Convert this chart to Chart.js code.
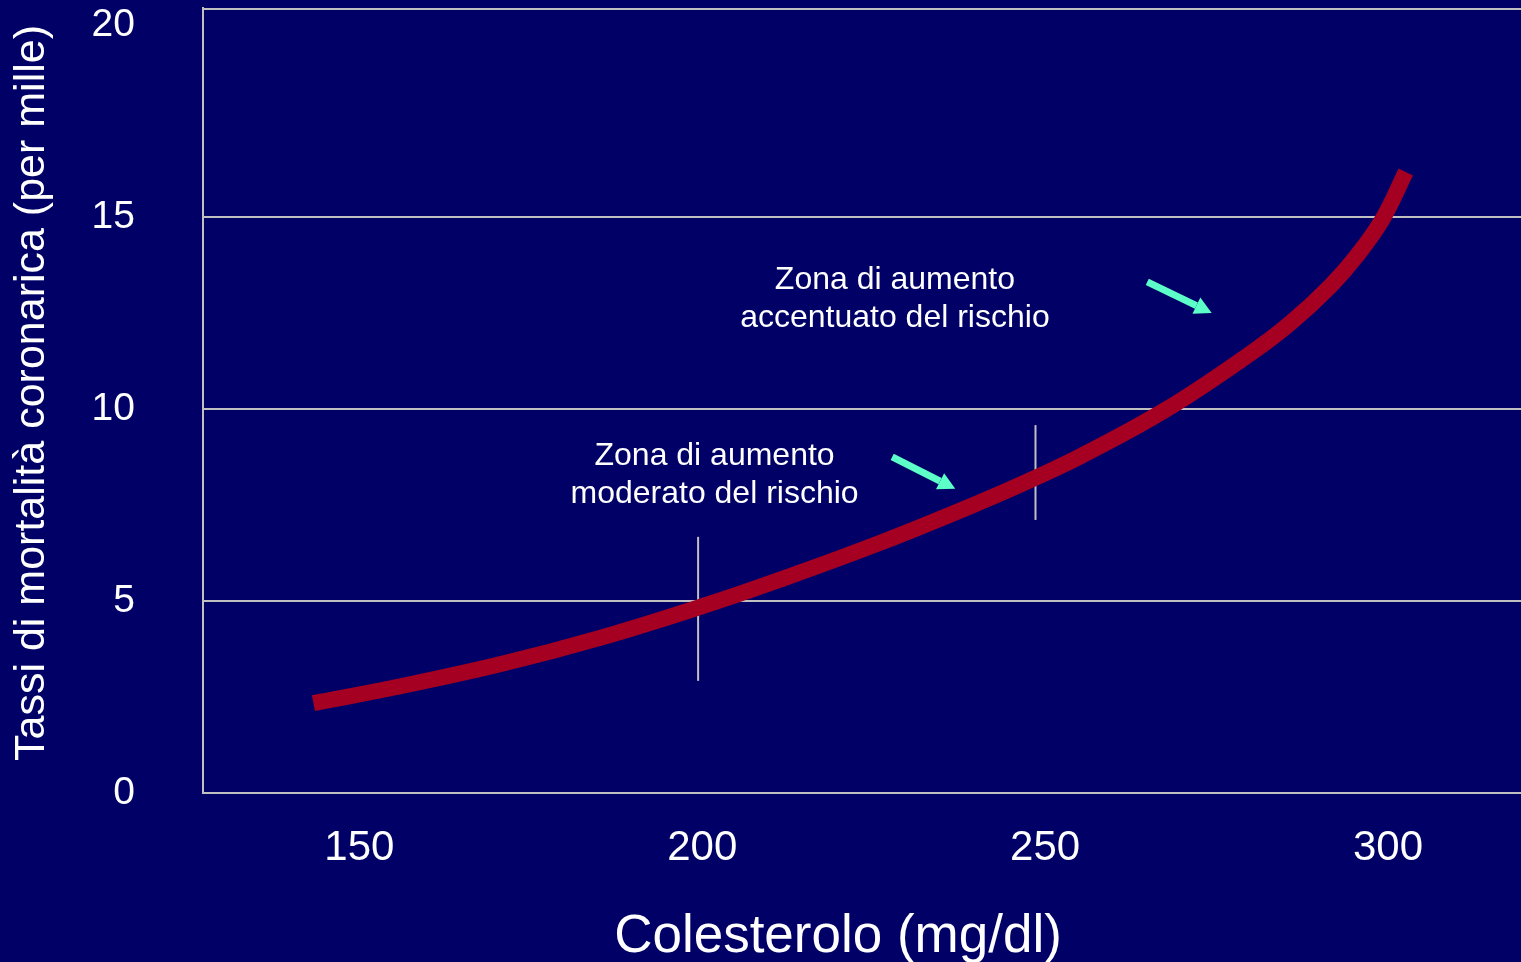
<!DOCTYPE html>
<html lang="it">
<head>
<meta charset="utf-8">
<title>Colesterolo e mortalità coronarica</title>
<script src="https://cdn.jsdelivr.net/npm/chart.js@4.4.0/dist/chart.umd.min.js"></script>
<style>
  html, body { margin: 0; padding: 0; background: #000066; overflow: hidden; }
  #myChart { display: block; }
</style>
</head>
<body>
<canvas id="myChart" width="1521" height="962"></canvas>
<script>
// curve
const cholesterol = [143.3, 156.0, 170.5, 185.1, 199.6, 211.4, 226.0, 240.6, 248.6, 255.2, 267.6, 280.0, 285.8, 291.6, 295.5, 299.2, 302.6];
const mortality = [2.34, 2.78, 3.35, 4.04, 4.84, 5.56, 6.52, 7.58, 8.21, 8.77, 9.98, 11.45, 12.24, 13.2, 14.0, 14.94, 16.17];

const xTicks = [150, 200, 250, 300];
const yTicks = [0, 5, 10, 15, 20];
const yGridValues = [5, 10, 15];

// vertical markers at the zone borders
const markerX = [199.4, 248.6];
const markerLow = [2.92, 7.11];
const markerHigh = [6.67, 9.58];

// zone labels (anchor = first text line)
const zoneText = [
  ['Zona di aumento', 'moderato del rischio'],
  ['Zona di aumento', 'accentuato del rischio']
];
const zoneX = [201.8, 228.1];
const zoneY = [8.54, 13.13];

// arrows pointing at the curve
const arrowFromX = [227.7, 264.9];
const arrowFromY = [8.75, 13.31];
const arrowToX = [236.9, 274.3];
const arrowToY = [7.92, 12.5];

const xTitle = 'Colesterolo (mg/dl)';
const yTitle = 'Tassi di mortalità coronarica (per mille)';

const FONT = '"Liberation Sans", Arial, Helvetica, sans-serif';
const BG = '#000066';
const GRID = '#c0c0c0';
const CURVE = '#a50021';
const ARROW = '#5cffc8';

function drawArrow(ctx, x0, y0, x1, y1) {
  const ang = Math.atan2(y1 - y0, x1 - x0);
  const head = 17;
  const half = 9;
  const bx = x1 - head * Math.cos(ang);
  const by = y1 - head * Math.sin(ang);

  ctx.lineWidth = 7;
  ctx.lineCap = 'butt';
  ctx.beginPath();
  ctx.moveTo(x0, y0);
  ctx.lineTo(bx, by);
  ctx.stroke();

  ctx.beginPath();
  ctx.moveTo(x1, y1);
  ctx.lineTo(bx + half * Math.sin(ang), by - half * Math.cos(ang));
  ctx.lineTo(bx - half * Math.sin(ang), by + half * Math.cos(ang));
  ctx.closePath();
  ctx.fill();
}

const decorPlugin = {
  id: 'decor',
  beforeDraw(chart) {
    const ctx = chart.ctx;
    ctx.save();
    ctx.fillStyle = BG;
    ctx.fillRect(0, 0, chart.width, chart.height);
    ctx.restore();
  },
  afterDraw(chart) {
    const { ctx, chartArea } = chart;
    const x = chart.scales.x;
    const y = chart.scales.y;
    ctx.save();

    // top frame line
    ctx.strokeStyle = GRID;
    ctx.lineWidth = 2;
    ctx.beginPath();
    ctx.moveTo(chartArea.left, chartArea.top + 1);
    ctx.lineTo(chartArea.right, chartArea.top + 1);
    ctx.stroke();

    // zone labels
    ctx.fillStyle = '#ffffff';
    ctx.font = `32px ${FONT}`;
    ctx.textAlign = 'center';
    ctx.textBaseline = 'alphabetic';
    zoneText.forEach((lines, i) => {
      const px = x.getPixelForValue(zoneX[i]);
      const py = y.getPixelForValue(zoneY[i]);
      lines.forEach((t, j) => ctx.fillText(t, px, py + j * 38));
    });

    // arrows
    ctx.fillStyle = ARROW;
    ctx.strokeStyle = ARROW;
    arrowFromX.forEach((_, i) => {
      drawArrow(ctx,
        x.getPixelForValue(arrowFromX[i]), y.getPixelForValue(arrowFromY[i]),
        x.getPixelForValue(arrowToX[i]), y.getPixelForValue(arrowToY[i]));
    });

    // axis titles
    ctx.fillStyle = '#ffffff';
    ctx.font = `53px ${FONT}`;
    ctx.textAlign = 'center';
    ctx.textBaseline = 'alphabetic';
    ctx.fillText(xTitle, 838, 952);

    ctx.translate(32, 393);
    ctx.rotate(-Math.PI / 2);
    ctx.font = `43px ${FONT}`;
    ctx.textBaseline = 'middle';
    ctx.fillText(yTitle, 0, 0);

    ctx.restore();
  }
};

function createChart() {
  const ctx = document.getElementById('myChart').getContext('2d');

  const datasets = [{
    label: 'Mortalità',
    data: cholesterol.map((c, i) => ({ x: c, y: mortality[i] })),
    borderColor: CURVE,
    borderWidth: 16,
    borderCapStyle: 'butt',
    borderJoinStyle: 'round',
    tension: 0.4,
    pointRadius: 0,
    fill: false
  }];

  markerX.forEach((mx, i) => {
    datasets.push({
      label: 'marker' + i,
      data: [{ x: mx, y: markerLow[i] }, { x: mx, y: markerHigh[i] }],
      borderColor: GRID,
      borderWidth: 2,
      pointRadius: 0,
      fill: false
    });
  });

  return new Chart(ctx, {
    type: 'line',
    data: { datasets },
    plugins: [decorPlugin],
    options: {
      responsive: false,
      animation: false,
      devicePixelRatio: 1,
      layout: { autoPadding: false, padding: { top: 8, right: 0, bottom: 0, left: 0 } },
      plugins: {
        legend: { display: false },
        tooltip: { enabled: false }
      },
      scales: {
        x: {
          type: 'linear',
          min: 127.2,
          max: 319.4,
          afterBuildTicks: s => { s.ticks = xTicks.map(v => ({ value: v })); },
          afterFit: s => {
            s.height = 169;
            s.paddingLeft = 0;
            s.paddingRight = 0;
          },
          grid: { display: false, drawTicks: false },
          border: { display: true, color: GRID, width: 2 },
          ticks: {
            color: '#ffffff',
            font: { family: FONT, size: 42 },
            padding: 30,
            maxRotation: 0,
            autoSkip: false
          }
        },
        y: {
          type: 'linear',
          min: 0,
          max: 20.44,
          afterBuildTicks: s => { s.ticks = yTicks.map(v => ({ value: v })); },
          afterFit: s => {
            s.width = 203;
            s.paddingTop = 0;
            s.paddingBottom = 0;
          },
          grid: {
            color: c => (c.tick && yGridValues.includes(c.tick.value)) ? GRID : 'rgba(0,0,0,0)',
            lineWidth: 2,
            drawTicks: false
          },
          border: { display: true, color: GRID, width: 2 },
          ticks: {
            color: '#ffffff',
            font: { family: FONT, size: 39 },
            padding: 68
          }
        }
      }
    }
  });
}

createChart();
</script>
</body>
</html>
